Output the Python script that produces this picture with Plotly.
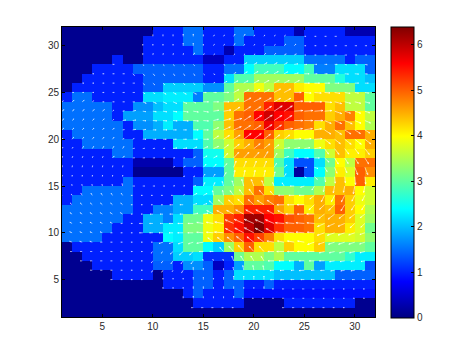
import math
import plotly.graph_objects as go

# Magnitude in tenths, one list per row, top row of the picture first
mag_rows = [
 [1,1,1,1,1,1,1,1,1,10,10,10,15,15,10,10,10,15,15,10,10,10,10,3,10,10,10,10,3,3,3],
 [1,1,1,1,1,1,1,1,10,10,10,10,15,15,10,10,10,15,10,10,10,10,14,14,10,10,10,10,10,10,10],
 [1,1,1,1,1,1,1,1,10,10,10,10,10,15,10,10,3,10,10,10,14,14,14,14,10,10,10,10,10,10,10],
 [1,1,1,1,1,10,1,1,10,10,10,10,10,10,4,4,10,10,21,21,21,21,21,21,15,15,15,15,10,14,14],
 [1,1,1,10,10,10,10,14,14,14,14,14,14,14,10,10,15,15,24,28,28,28,24,24,28,16,16,22,22,22,14],
 [1,1,10,10,10,10,10,10,14,14,14,14,14,14,10,10,22,29,29,34,34,34,34,34,30,30,30,26,22,22,20],
 [1,10,10,10,10,10,10,10,14,14,21,21,21,21,17,17,30,35,35,39,36,44,44,41,40,40,32,32,32,22,22],
 [10,15,15,10,10,10,10,10,22,22,23,23,23,16,30,30,32,36,49,49,49,44,44,50,40,42,42,42,36,36,30],
 [15,15,15,15,15,10,10,17,17,20,22,22,30,30,30,32,44,44,49,49,54,58,58,50,50,50,42,44,36,36,30],
 [15,15,15,15,15,10,18,18,18,22,22,24,30,30,30,30,43,49,50,56,59,56,55,50,49,49,43,45,48,40,36],
 [15,15,15,15,15,15,10,17,17,19,23,19,19,29,29,33,44,49,49,50,57,53,50,49,48,42,45,49,44,40,35],
 [10,15,15,15,15,15,10,10,19,19,19,19,19,24,30,36,42,46,56,56,50,43,42,40,40,45,45,44,49,49,45],
 [10,10,15,15,15,15,15,10,10,10,10,22,22,22,29,33,37,43,45,48,46,37,33,33,33,39,42,44,42,40,45],
 [10,10,10,10,10,15,15,10,10,10,10,10,10,14,25,25,37,46,46,46,46,34,28,24,24,29,37,44,41,41,43],
 [10,10,10,10,10,10,10,3,3,3,3,10,14,14,24,24,30,42,42,42,42,29,22,13,13,22,31,40,36,49,49],
 [10,10,10,10,10,10,10,1,1,1,1,1,10,10,18,18,30,41,41,41,41,31,22,2,13,24,33,41,38,50,47],
 [10,10,10,10,10,10,15,10,10,10,10,10,10,14,23,23,30,34,44,44,36,23,23,23,23,29,36,44,40,50,41],
 [10,10,15,15,15,15,15,10,10,10,10,10,10,24,24,30,32,36,44,49,42,33,33,31,31,35,44,44,45,40,37],
 [10,15,15,15,15,15,15,10,10,10,10,19,19,22,22,34,43,42,49,46,48,49,42,40,42,45,41,49,43,39,37],
 [15,15,15,15,15,15,15,10,10,16,16,19,19,28,28,45,45,47,54,54,54,46,43,50,41,45,44,50,43,40,35],
 [15,15,15,15,15,15,10,10,19,19,16,22,31,31,39,42,52,54,62,62,56,55,51,50,49,44,45,45,43,38,34],
 [15,15,15,15,15,10,10,10,19,19,23,23,32,32,39,41,53,55,60,64,58,53,50,50,49,42,45,45,41,38,31],
 [15,15,15,15,10,10,10,10,10,10,24,23,30,30,39,43,47,50,55,52,48,42,40,40,40,42,38,38,38,37,33],
 [1,10,10,10,10,10,10,10,10,15,15,22,30,30,24,21,34,43,50,42,42,36,43,40,40,43,32,32,32,32,30],
 [1,1,10,10,10,10,10,10,10,15,15,21,21,22,11,11,11,31,35,35,32,35,30,30,30,30,30,30,27,23,23],
 [1,1,1,10,10,10,10,10,10,14,14,10,17,17,14,4,10,18,30,30,29,24,24,19,30,18,23,23,23,23,13],
 [1,1,1,1,1,10,10,10,10,1,10,10,10,14,14,10,14,22,22,22,22,20,20,20,20,20,20,14,14,14,14],
 [1,1,1,1,1,1,1,1,1,1,10,10,10,14,14,10,14,14,10,10,14,10,10,10,10,10,10,10,10,10,10],
 [1,1,1,1,1,1,1,1,1,1,1,1,10,14,10,10,10,14,9,9,9,9,9,9,9,9,9,9,9,9,9],
 [1,1,1,1,1,1,1,1,1,1,1,1,1,10,10,10,10,10,1,1,1,1,10,10,10,10,10,10,10,1,1],
 [1,1,1,1,1,1,1,1,1,1,1,1,1,1,1,1,1,1,1,1,1,1,1,1,1,1,1,1,1,1,1],
]

# Arrow direction in degrees, same layout
dir_rows = [
 [0,0,0,0,0,0,0,0,0,90,90,90,90,90,90,60,60,60,60,60,60,45,45,45,0,0,0,0,0,0,0],
 [0,0,0,0,0,0,0,0,90,90,90,90,90,90,90,60,60,60,60,60,60,45,45,45,0,0,0,0,0,0,0],
 [0,0,0,0,0,0,0,0,90,80,80,80,80,60,60,45,45,45,45,45,45,45,30,30,0,0,0,0,0,0,0],
 [0,0,0,0,0,0,0,0,-45,-45,-45,-45,-45,-45,-45,-30,-30,30,30,30,30,30,30,10,0,0,0,0,-10,-10,-10],
 [0,0,0,0,0,0,0,-45,-45,-45,-45,-45,-45,-45,-45,-30,-30,30,30,30,30,30,30,10,0,0,0,0,-5,-5,-5],
 [0,0,0,0,0,0,0,0,-45,-45,-45,-45,-45,-45,-45,30,30,30,30,30,30,30,30,30,0,0,0,0,0,0,0],
 [0,0,0,0,0,0,0,0,-30,-30,-30,-30,-30,-30,0,0,0,30,30,30,30,30,30,0,-5,-5,-5,-10,-10,-10,-10],
 [40,40,40,40,0,0,0,0,-25,-25,-25,-25,-25,-25,0,0,0,30,30,30,30,30,30,5,0,0,-5,-15,-15,-15,-15],
 [40,40,40,40,40,40,15,15,-10,-10,-10,-10,-10,-10,-10,10,10,35,35,35,35,35,35,5,5,5,5,-20,-20,-20,-20],
 [45,45,45,45,45,45,10,10,-5,-5,-5,-5,-5,-5,-5,15,15,15,35,35,35,35,35,0,0,0,-25,-25,-25,-25,-25],
 [50,50,50,50,50,50,10,10,10,0,0,0,0,0,0,25,25,25,35,35,35,35,10,10,10,10,-35,-35,-35,-35,-35],
 [55,55,55,55,55,55,30,30,0,0,0,0,0,0,0,35,35,35,40,40,40,40,40,5,5,5,-40,-40,-40,-40,-40],
 [60,60,60,60,60,60,60,10,10,10,10,10,10,25,25,25,40,40,40,40,40,40,10,10,10,10,-55,-55,-55,-55,-55],
 [70,70,70,70,70,50,50,5,5,5,5,5,5,30,30,30,50,50,50,50,60,60,20,0,0,0,-45,-60,-60,-60,-60],
 [80,80,80,80,80,80,80,0,0,0,0,30,30,30,50,50,50,70,70,70,70,60,40,0,0,-20,-60,-70,-70,-70,-70],
 [85,85,85,85,85,85,85,0,0,0,20,20,20,20,60,60,60,80,80,80,80,80,60,0,-30,-45,-80,-85,-85,-85,-85],
 [100,100,100,100,100,100,100,0,0,0,0,10,10,10,70,70,105,105,105,110,110,110,120,180,200,240,260,260,260,260,260],
 [120,120,120,120,120,120,120,180,180,180,180,180,30,30,30,100,100,125,125,125,130,130,180,180,180,220,245,245,245,245,245],
 [135,135,135,135,135,135,135,180,180,180,180,180,180,20,20,135,135,135,135,135,145,145,180,180,180,225,225,225,240,240,240],
 [145,145,145,145,145,145,145,180,180,180,180,180,180,10,10,150,150,150,150,150,150,150,150,180,180,180,220,220,220,220,220],
 [150,150,150,150,150,150,180,180,180,180,180,180,180,180,170,170,170,155,155,155,155,155,175,175,175,175,205,205,205,225,225],
 [155,155,155,155,155,180,180,180,180,180,180,180,180,180,175,175,175,150,150,150,150,150,175,175,175,175,200,200,200,200,200],
 [160,160,160,160,180,180,180,180,180,180,200,200,200,200,190,140,140,140,140,140,140,170,170,170,170,200,200,200,200,200,200],
 [0,180,180,180,180,180,180,180,180,225,225,225,225,225,180,180,130,130,130,130,130,180,180,180,180,180,195,195,195,195,195],
 [0,0,180,180,180,180,180,180,180,235,235,235,235,235,110,110,110,110,120,120,120,180,180,180,180,180,180,190,190,190,190],
 [0,0,0,180,180,180,180,180,180,240,240,240,240,90,90,90,90,100,100,100,100,185,185,185,185,185,185,190,190,190,190],
 [0,0,0,0,0,180,180,180,180,0,90,90,90,90,90,90,90,90,90,90,90,180,180,180,180,180,180,180,180,180,180],
 [0,0,0,0,0,0,0,0,0,0,90,90,90,90,90,90,90,90,90,90,90,180,180,180,180,180,180,180,180,180,180],
 [0,0,0,0,0,0,0,0,0,0,0,0,90,90,90,90,90,90,180,180,180,180,180,180,180,180,180,180,180,180,180],
 [0,0,0,0,0,0,0,0,0,0,0,0,0,180,180,180,180,180,0,0,0,0,180,180,180,180,180,180,180,0,0],
 [0,0,0,0,0,0,0,0,0,0,0,0,0,0,0,0,0,0,0,0,0,0,0,0,0,0,0,0,0,0,0],
]

x_edges = list(range(1, 33))
y_edges = list(range(32, 0, -1))
tick_vals = [5, 10, 15, 20, 25, 30]
bar_ticks = [0, 1, 2, 3, 4, 5, 6]

jet = [[0, "rgb(0,0,128)"], [0.125, "rgb(0,0,255)"], [0.375, "rgb(0,255,255)"],
       [0.625, "rgb(255,255,0)"], [0.875, "rgb(255,0,0)"], [1, "rgb(128,0,0)"]]

z = [[v / 10 for v in row] for row in mag_rows]

SCALE = 0.17
qx, qy = [], []
for r, (mrow, drow) in enumerate(zip(z, dir_rows)):
    for c, (m, d) in enumerate(zip(mrow, drow)):
        if m < 0.5:
            continue
        x0, y0 = x_edges[c], y_edges[r + 1]
        L = m * SCALE
        a = math.radians(d)
        x1, y1 = x0 + L * math.cos(a), y0 + L * math.sin(a)
        qx += [x0, x1, None]
        qy += [y0, y1, None]
        for da in (2.8, -2.8):
            qx += [x1, x1 + 0.25 * L * math.cos(a + da), None]
            qy += [y1, y1 + 0.25 * L * math.sin(a + da), None]

font = dict(family="Liberation Sans, Arial, sans-serif", size=10, color="#2a2a2a")

fig = go.Figure()
fig.add_trace(go.Heatmap(
    z=z, x=x_edges, y=y_edges, zmin=0, zmax=6.4, colorscale=jet, zsmooth=False,
    hoverinfo="skip",
    colorbar=dict(
        thickness=23, thicknessmode="pixels", len=291, lenmode="pixels",
        x=1.05, xanchor="left", y=0.5, yanchor="middle", xpad=0, ypad=0,
        tickvals=bar_ticks, ticks="inside", ticklen=3, tickcolor="#000",
        tickfont=font, outlinecolor="#000", outlinewidth=1,
    ),
))
fig.add_trace(go.Scatter(
    x=qx, y=qy, mode="lines", line=dict(color="rgba(255,255,255,0.85)", width=0.7),
    hoverinfo="skip", showlegend=False, connectgaps=False,
))
axis = dict(
    tickvals=tick_vals, ticks="inside", ticklen=3, tickcolor="#000", tickfont=font,
    showline=True, linecolor="#000", linewidth=1, mirror="ticks",
    showgrid=False, zeroline=False, range=[1, 32],
)
fig.update_xaxes(**axis)
fig.update_yaxes(**axis)
fig.update_layout(
    width=474, height=355, autosize=False, paper_bgcolor="white", plot_bgcolor="white",
    margin=dict(l=62, r=99, t=27, b=38), showlegend=False,
)
fig.write_html("out.html", post_script="document.body.style.margin='0';", config={"displayModeBar": False})
